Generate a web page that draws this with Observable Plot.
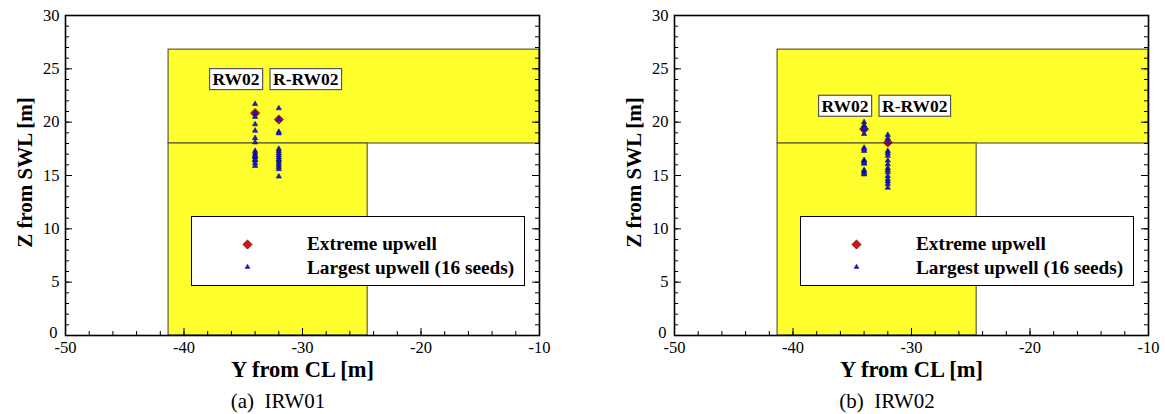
<!DOCTYPE html>
<html>
<head>
<meta charset="utf-8">
<script src="https://cdn.jsdelivr.net/npm/d3@7"></script>
<script src="https://cdn.jsdelivr.net/npm/@observablehq/plot@0.6"></script>
<style>
  body { margin: 0; background: #fff; }
  #root { position: relative; width: 1165px; height: 414px; background: #fff; overflow: hidden; }
  .panel { position: absolute; top: 0; width: 556px; }
  .panel svg { display: block; }
  .caption { font-family: "Liberation Serif", "Times New Roman", serif; font-size: 21px; text-align: center; line-height: 32px; white-space: pre; color: #000; }
  .legend { position: absolute; left: 191px; top: 216px; width: 334px; height: 70px; box-sizing: border-box; border: 1px solid #000; background: #fff; }
  .legend svg { position: absolute; left: 0; top: 0; }
  .legend .lt { position: absolute; left: 115px; font-family: "Liberation Serif", "Times New Roman", serif; font-weight: bold; font-size: 19.3px; line-height: 20px; color: #000; white-space: nowrap; }
</style>
</head>
<body>
<div id="root"></div>
<script>
// ---- data ----
const seriesNames = ["RW02", "R-RW02"];
const seriesPosY = [-34, -32];              // Y from CL [m] of each column
const panelCaptions = ["(a)  IRW01", "(b)  IRW02"];

// Largest upwell (16 seeds), Z from SWL [m]
const irw01_RW02 = [21.7, 20.85, 20.5, 19.8, 19.2, 18.5, 18.1, 17.3, 17.1, 16.9, 16.8, 16.7, 16.5, 16.4, 16.15, 15.9];
const irw01_RRW02 = [21.3, 20.25, 19.1, 18.95, 17.5, 17.3, 17.1, 16.9, 16.7, 16.5, 16.4, 16.2, 16.0, 15.8, 15.6, 14.9];
const irw02_RW02 = [20.0, 19.7, 19.5, 19.35, 18.9, 17.6, 17.45, 17.3, 16.45, 16.35, 16.2, 16.1, 15.5, 15.4, 15.25, 15.1];
const irw02_RRW02 = [18.8, 18.5, 18.1, 17.3, 17.1, 16.85, 16.4, 16.05, 15.7, 15.5, 15.3, 14.95, 14.65, 14.45, 14.2, 13.85];

// Extreme upwell
const irw01_extreme = [20.85, 20.25];
const irw02_extreme = [19.35, 18.1];

// label heights (Z) for the column name boxes
const irw01_labelZ = [24.0, 24.0];
const irw02_labelZ = [21.5, 21.5];

// deck / structure zones (yellow)
const zoneY1 = [-41.3, -41.3];
const zoneY2 = [-10, -24.5];
const zoneZ1 = [18, 0];
const zoneZ2 = [26.8, 18];

// axes
const xMajorTicks = [-50, -40, -30, -20, -10];
const xMinorTicks = d3.range(-50, -9, 2);
const yMajorTicks = [5, 10, 15, 20, 25, 30];
const yOriginTick = [0];
const yMinorTicks = d3.range(0, 31, 1);
const xTitle = "Y from CL [m]";
const yTitle = "Z from SWL [m]";
const legendLabels = ["Extreme upwell", "Largest upwell (16 seeds)"];

// ---- build ----
const W = 556, H = 385, mL = 65, mR = 17, mT = 15, mB = 50;
const FW = W - mL - mR, FH = H - mT - mB;
const serif = "'Liberation Serif', 'Times New Roman', serif";

function makePanel(seeds, extreme, labelZ) {
  const pts = seriesNames.flatMap((n, i) => seeds[i].map(z => ({name: n, y: seriesPosY[i], z})));
  const ext = seriesNames.map((n, i) => ({name: n, y: seriesPosY[i], z: extreme[i]}));
  const zones = zoneY1.map((d, i) => ({x1: zoneY1[i], x2: zoneY2[i], y1: zoneZ1[i], y2: zoneZ2[i]}));
  const labelDx = [-19, 27];
  return Plot.plot({
    width: W, height: H,
    marginLeft: mL, marginRight: mR, marginTop: mT, marginBottom: mB,
    style: {fontFamily: serif, fontSize: "16.5px", color: "#000", background: "transparent"},
    x: {domain: [-50, -10]},
    y: {domain: [0, 30]},
    marks: [
      Plot.rect(zones, {x1: "x1", x2: "x2", y1: "y1", y2: "y2", fill: "#ffff2e", stroke: "#5c5c3a", strokeWidth: 1.2}),
      // inward ticks
      Plot.tickX(xMinorTicks, {x: d => d, insetTop: FH - 4, stroke: "#000", strokeWidth: 1}),
      Plot.tickX(xMajorTicks, {x: d => d, insetTop: FH - 7, stroke: "#000", strokeWidth: 1}),
      Plot.tickY(yMinorTicks, {y: d => d, insetRight: FW - 4, stroke: "#000", strokeWidth: 1}),
      Plot.tickY(yMajorTicks, {y: d => d, insetRight: FW - 7, stroke: "#000", strokeWidth: 1}),
      Plot.tickY(yMinorTicks, {y: d => d, insetLeft: FW - 4, stroke: "#000", strokeWidth: 1}),
      Plot.tickY(yMajorTicks, {y: d => d, insetLeft: FW - 7, stroke: "#000", strokeWidth: 1}),
      Plot.frame({stroke: "#000", strokeWidth: 1.6}),
      Plot.axisX(xMajorTicks, {tickSize: 0, tickPadding: 6, tickFormat: d => String(d), label: null, fontSize: 16.5}),
      Plot.axisY(yMajorTicks, {tickSize: 0, tickPadding: 6, tickFormat: d => String(d), label: null, fontSize: 16.5}),
      Plot.axisY(yOriginTick, {tickSize: 0, tickPadding: 8, dy: -3, tickFormat: d => String(d), label: null, fontSize: 16.5}),
      Plot.text([xTitle], {frameAnchor: "bottom", lineAnchor: "middle", textAnchor: "middle", dy: 34, fontWeight: "bold", fontSize: 22.5, text: d => d}),
      Plot.text([yTitle], {frameAnchor: "left", textAnchor: "middle", lineAnchor: "middle", dx: -40, dy: -3, rotate: -90, fontWeight: "bold", fontSize: 21, text: d => d}),
      // extreme (diamond), then seeds (triangles) on top
      Plot.dot(ext, {x: "y", y: "z", symbol: "square", rotate: 45, r: 3.6, fill: "#d41515", stroke: "#6a0000", strokeWidth: 0.8}),
      Plot.dot(pts, {x: "y", y: "z", symbol: "triangle", r: 2, fill: "#1c1cd4", stroke: "#00006e", strokeWidth: 0.5}),
      // column labels
      ...seriesNames.map((n, i) => Plot.text([n], {x: () => seriesPosY[i], y: () => labelZ[i], text: d => d, dx: labelDx[i], fontWeight: "bold", fontSize: 17.5}))
    ]
  });
}

function addLabelBoxes(svg) {
  svg.querySelectorAll("text").forEach(t => {
    if (seriesNames.includes(t.textContent)) {
      const b = t.getBBox();
      const r = document.createElementNS("http://www.w3.org/2000/svg", "rect");
      r.setAttribute("x", b.x - 3);
      r.setAttribute("y", b.y - 0.5);
      r.setAttribute("width", b.width + 6);
      r.setAttribute("height", b.height + 1);
      r.setAttribute("fill", "#fff");
      r.setAttribute("stroke", "#555");
      r.setAttribute("stroke-width", "1.2");
      const tr = t.getAttribute("transform");
      if (tr) r.setAttribute("transform", tr);
      t.parentNode.insertBefore(r, t);
    }
  });
}

function legendBox() {
  const lg = document.createElement("div");
  lg.className = "legend";
  const ns = "http://www.w3.org/2000/svg";
  const s = document.createElementNS(ns, "svg");
  s.setAttribute("width", 334); s.setAttribute("height", 70);
  const dia = d3.symbol(d3.symbolSquare, 41)();
  const tri = d3.symbol(d3.symbolTriangle, 10)();
  const p1 = document.createElementNS(ns, "path");
  p1.setAttribute("d", dia); p1.setAttribute("transform", "translate(55.5,27.5) rotate(45)");
  p1.setAttribute("fill", "#d41515"); p1.setAttribute("stroke", "#6a0000"); p1.setAttribute("stroke-width", "0.8");
  const p2 = document.createElementNS(ns, "path");
  p2.setAttribute("d", tri); p2.setAttribute("transform", "translate(55.5,50)");
  p2.setAttribute("fill", "#1c1cd4"); p2.setAttribute("stroke", "#00006e"); p2.setAttribute("stroke-width", "0.5");
  s.appendChild(p1); s.appendChild(p2);
  lg.appendChild(s);
  const t1 = document.createElement("div"); t1.className = "lt"; t1.style.top = "17px"; t1.textContent = legendLabels[0];
  const t2 = document.createElement("div"); t2.className = "lt"; t2.style.top = "41px"; t2.textContent = legendLabels[1];
  lg.appendChild(t1); lg.appendChild(t2);
  return lg;
}

const root = document.getElementById("root");
const configs = [
  {left: 0, seeds: [irw01_RW02, irw01_RRW02], ext: irw01_extreme, lz: irw01_labelZ, cap: panelCaptions[0]},
  {left: 609, seeds: [irw02_RW02, irw02_RRW02], ext: irw02_extreme, lz: irw02_labelZ, cap: panelCaptions[1]}
];
for (const c of configs) {
  const panel = document.createElement("div");
  panel.className = "panel";
  panel.style.left = c.left + "px";
  const chart = makePanel(c.seeds, c.ext, c.lz);
  panel.appendChild(chart);
  const cap = document.createElement("div");
  cap.className = "caption";
  cap.textContent = c.cap;
  panel.appendChild(cap);
  panel.appendChild(legendBox());
  root.appendChild(panel);
  addLabelBoxes(chart);
}
</script>
</body>
</html>
